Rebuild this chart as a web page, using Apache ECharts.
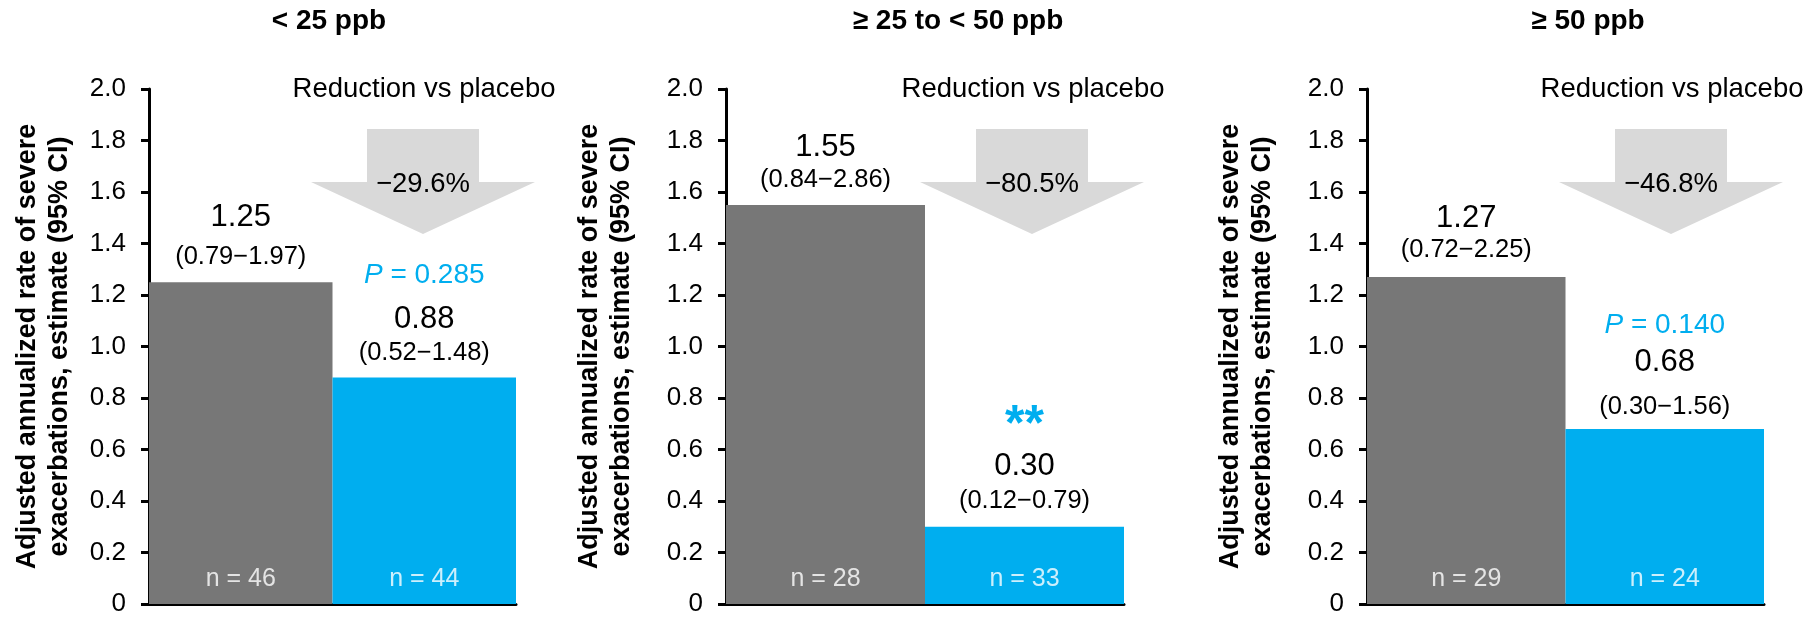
<!DOCTYPE html>
<html>
<head>
<meta charset="utf-8">
<script src="https://cdn.jsdelivr.net/npm/echarts@6/dist/echarts.min.js"></script>
<style>
  html, body { margin: 0; padding: 0; background: #ffffff; }
  #chart { width: 1812px; height: 619px; }
</style>
</head>
<body>
<div id="chart"></div>
<script>
// ---- data ----
const groups = ['< 25 ppb', '\u2265 25 to < 50 ppb', '\u2265 50 ppb'];
const arms = ['Placebo', 'Active'];
const placeboRate = [1.25, 1.55, 1.27];
const activeRate = [0.88, 0.30, 0.68];
const placeboCI = ['0.79\u22121.97', '0.84\u22122.86', '0.72\u22122.25'];
const activeCI = ['0.52\u22121.48', '0.12\u22120.79', '0.30\u22121.56'];
const placeboN = [46, 28, 29];
const activeN = [44, 33, 24];
const reduction = ['\u221229.6%', '\u221280.5%', '\u221246.8%'];
const pValues = ['0.285', null, '0.140'];
const stars = ['', '**', ''];
const yTitle = 'Adjusted annualized rate of severe\nexacerbations, estimate (95% CI)';
const noteText = 'Reduction vs placebo';

// ---- styling / layout ----
const FONT = '"Liberation Sans", Arial, Helvetica, sans-serif';
const GREY = '#777777';
const BLUE = '#00AEEF';
const ARROW = '#D9D9D9';
const INK = '#000000';
const TOP = 89, HEIGHT = 515;

const panels = [
  { left: 149, width: 367, titleX: 329, noteX: 424, arrowX: 423, nameGap: 73 },
  { left: 726, width: 398, titleX: 958, noteX: 1033, arrowX: 1032, nameGap: 88 },
  { left: 1367, width: 397, titleX: 1588, noteX: 1672, arrowX: 1671, nameGap: 88 }
];

// line boxes (px) for the stacked labels above each bar: gap, CI line, value line, top line
const labelBoxes = [
  { placebo: { d: 5, ci: 40, v: 40 }, active: { d: 8, ci: 33, v: 33, s: 57 } },
  { placebo: { d: 8, ci: 33, v: 33 }, active: { d: 8, ci: 35, v: 35, s: 45 } },
  { placebo: { d: 11, ci: 32, v: 32 }, active: { d: 0, ci: 44, v: 44, s: 32 } }
];

function richStyles(box) {
  return {
    v: { fontFamily: FONT, fontSize: 31, color: INK, lineHeight: box.v },
    ci: { fontFamily: FONT, fontSize: 25.5, color: INK, lineHeight: box.ci },
    p: { fontFamily: FONT, fontSize: 28, color: BLUE, fontStyle: 'italic', lineHeight: box.s || 0 },
    pv: { fontFamily: FONT, fontSize: 28, color: BLUE, lineHeight: box.s || 0 },
    st: { fontFamily: FONT, fontSize: 50, fontWeight: 'bold', color: BLUE, lineHeight: box.s || 0 }
  };
}

const grid = [], xAxis = [], yAxis = [], series = [], title = [], graphic = [];

panels.forEach((pn, i) => {
  grid.push({ left: pn.left, top: TOP, width: pn.width, height: HEIGHT, containLabel: false });

  xAxis.push({
    type: 'category', gridIndex: i, data: arms, boundaryGap: true,
    axisLine: { show: true, lineStyle: { color: INK, width: 3 } },
    axisTick: { show: false }, axisLabel: { show: false }, splitLine: { show: false }
  });

  yAxis.push({
    type: 'value', gridIndex: i, min: 0, max: 2, interval: 0.2,
    name: yTitle, nameLocation: 'middle', nameRotate: 90, nameGap: pn.nameGap,
    nameTextStyle: { fontFamily: FONT, fontSize: 27, fontWeight: 'bold', color: INK, lineHeight: 32 },
    axisLine: { show: true, lineStyle: { color: INK, width: 3 } },
    axisTick: { show: true, inside: false, length: 8, lineStyle: { color: INK, width: 3 } },
    axisLabel: {
      margin: 23, fontFamily: FONT, fontSize: 26, color: INK,
      formatter: v => (Math.abs(v) < 1e-9 ? '0' : v.toFixed(1))
    },
    splitLine: { show: false }
  });

  const pb = labelBoxes[i].placebo, ab = labelBoxes[i].active;
  const activeTop = pValues[i] !== null
    ? '{p|P}{pv| = ' + pValues[i] + '}\n'
    : (stars[i] ? '{st|' + stars[i] + '}\n' : '');

  series.push({
    type: 'bar', xAxisIndex: i, yAxisIndex: i,
    barWidth: '100%', barCategoryGap: 0, z: 2,
    data: [
      {
        value: placeboRate[i], itemStyle: { color: GREY },
        label: {
          show: true, position: 'top', distance: pb.d,
          formatter: '{v|' + placeboRate[i].toFixed(2) + '}\n{ci|(' + placeboCI[i] + ')}',
          rich: richStyles(pb)
        }
      },
      {
        value: activeRate[i], itemStyle: { color: BLUE },
        label: {
          show: true, position: 'top', distance: ab.d,
          formatter: activeTop + '{v|' + activeRate[i].toFixed(2) + '}\n{ci|(' + activeCI[i] + ')}',
          rich: richStyles(ab)
        }
      }
    ]
  });

  // sample sizes written at the foot of each bar
  const nLabels = [placeboN[i], activeN[i]];
  series.push({
    type: 'scatter', xAxisIndex: i, yAxisIndex: i, symbolSize: 0, z: 4, silent: true,
    data: [[arms[0], 0], [arms[1], 0]],
    label: {
      show: true, position: 'top', distance: 12,
      fontFamily: FONT, fontSize: 25, lineHeight: 25, color: '#ffffff',
      formatter: p => 'n = ' + nLabels[p.dataIndex]
    }
  });

  title.push({
    text: groups[i], left: pn.titleX, top: 7, textAlign: 'center', padding: 0,
    textStyle: { fontFamily: FONT, fontSize: 28, fontWeight: 'bold', color: INK }
  });

  // "Reduction vs placebo" caption and the downward arrow with the percentage
  graphic.push({
    type: 'text', x: pn.noteX, y: 89, z: 10,
    style: { text: noteText, font: '27.5px ' + FONT, fill: INK, align: 'center', verticalAlign: 'middle' }
  });
  const cx = pn.arrowX;
  graphic.push({
    type: 'polygon', z: 5,
    shape: {
      points: [
        [cx - 56, 129], [cx + 56, 129], [cx + 56, 182], [cx + 112, 182],
        [cx, 234], [cx - 112, 182], [cx - 56, 182]
      ]
    },
    style: { fill: ARROW }
  });
  graphic.push({
    type: 'text', x: cx, y: 184, z: 10,
    style: { text: reduction[i], font: '27.5px ' + FONT, fill: INK, align: 'center', verticalAlign: 'middle' }
  });
});

const chart = echarts.init(document.getElementById('chart'), null, { renderer: 'canvas' });
chart.setOption({
  backgroundColor: '#ffffff',
  animation: false,
  title, grid, xAxis, yAxis, series, graphic
});
</script>
</body>
</html>
